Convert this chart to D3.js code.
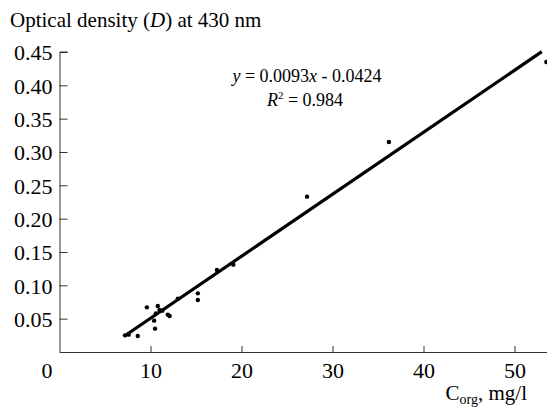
<!DOCTYPE html>
<html>
<head>
<meta charset="utf-8">
<script src="https://cdn.jsdelivr.net/npm/d3@7"></script>
<style>
  body { margin: 0; background: #fff; }
  svg { display: block; font-family: "Liberation Serif", "DejaVu Serif", serif; }
</style>
</head>
<body>
<div class="chart"></div>
<script>
// measured points, C_org (mg/l) vs optical density D
const corg = [7.2, 7.6, 8.6, 9.6, 10.4, 10.5, 10.6, 10.8, 11.0, 11.3, 11.9, 12.1, 13.0, 15.2, 15.2, 17.3, 19.1, 27.2, 36.2, 53.5];
const density = [0.025, 0.026, 0.024, 0.067, 0.047, 0.035, 0.058, 0.069, 0.063, 0.062, 0.056, 0.054, 0.080, 0.088, 0.078, 0.123, 0.131, 0.233, 0.315, 0.435];

const xTicks = [0, 10, 20, 30, 40, 50];
const yTicks = [0.05, 0.10, 0.15, 0.20, 0.25, 0.30, 0.35, 0.40, 0.45];

// trend line y = 0.0093x - 0.0424
const slope = 0.0093, intercept = -0.0424;
const fitRange = [7.1, 53.0];

const width = 547, height = 408;

const svg = d3.select(".chart")
  .append("svg")
  .attr("width", width)
  .attr("height", height);

const x = d3.scaleLinear().domain([0, 54]).range([59.5, 59.5 + 54 * 9.1]);
const y = d3.scaleLinear().domain([0, 0.45]).range([352, 52]);

// y axis
const yAxis = svg.append("g")
  .attr("transform", "translate(" + x(0) + ",0)")
  .call(d3.axisRight(y).tickValues(yTicks).tickSize(8).tickFormat(d3.format(".2f")));
yAxis.select(".domain").attr("d", "M0.5," + y(0.45) + "V" + y(0) + "M0.5," + y(0.45) + "H8");
yAxis.selectAll("text")
  .attr("x", -7)
  .attr("dy", "0.35em")
  .attr("text-anchor", "end")
  .style("font-size", "22px")
  .style("font-family", "Liberation Serif");

// x axis
const xAxis = svg.append("g")
  .attr("transform", "translate(0," + y(0) + ")")
  .call(d3.axisTop(x).tickValues(xTicks).tickSize(6).tickFormat(d3.format("d")));
xAxis.select(".domain").attr("d", "M" + x(0) + ",0.5H" + width);
xAxis.selectAll(".tick line").filter(d => d === 0).remove();
xAxis.selectAll("text")
  .attr("y", 26)
  .attr("dy", 0)
  .attr("text-anchor", "middle")
  .style("font-size", "22px")
  .style("font-family", "Liberation Serif");
xAxis.selectAll(".tick").filter(d => d === 0).select("text").attr("x", -13);

svg.selectAll(".domain, .tick line").attr("stroke", "#333");

// titles
const yTitle = svg.append("text")
  .attr("x", 10).attr("y", 27)
  .style("font-size", "21px");
yTitle.append("tspan").text("Optical density (");
yTitle.append("tspan").attr("font-style", "italic").text("D");
yTitle.append("tspan").text(") at 430 nm");

const xTitle = svg.append("text")
  .attr("x", 527).attr("y", 400)
  .attr("text-anchor", "end")
  .style("font-size", "21px");
xTitle.append("tspan").text("C");
xTitle.append("tspan").attr("dy", 4).style("font-size", "14px").text("org");
xTitle.append("tspan").attr("dy", -4).text(", mg/l");

// regression line
svg.append("line")
  .attr("x1", x(fitRange[0])).attr("y1", y(slope * fitRange[0] + intercept))
  .attr("x2", x(fitRange[1])).attr("y2", y(slope * fitRange[1] + intercept))
  .attr("stroke", "#000")
  .attr("stroke-width", 3.2);

// points
svg.append("g").selectAll("circle")
  .data(corg.map((c, i) => [c, density[i]]))
  .join("circle")
  .attr("cx", d => x(d[0]))
  .attr("cy", d => y(d[1]))
  .attr("r", 2.2)
  .attr("fill", "#000");

// equation
const eq = svg.append("text")
  .attr("x", 307).attr("y", 82)
  .attr("text-anchor", "middle")
  .style("font-size", "18px");
eq.append("tspan").attr("font-style", "italic").text("y");
eq.append("tspan").text(" = 0.0093");
eq.append("tspan").attr("font-style", "italic").text("x");
eq.append("tspan").text(" - 0.0424");

const r2 = svg.append("text")
  .attr("x", 305).attr("y", 106)
  .attr("text-anchor", "middle")
  .style("font-size", "18px");
r2.append("tspan").attr("font-style", "italic").text("R");
r2.append("tspan").attr("dy", -7).style("font-size", "11px").text("2");
r2.append("tspan").attr("dy", 7).text(" = 0.984");
</script>
</body>
</html>
